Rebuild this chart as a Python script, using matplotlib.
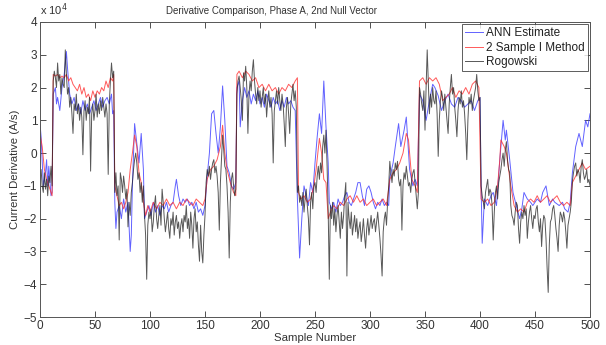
import matplotlib
matplotlib.use("Agg")
import matplotlib.pyplot as plt

plt.rcParams['font.family'] = ['Liberation Sans', 'DejaVu Sans']

# ---- data (values in units of 1e4 A/s) ----
red_x = [0, 2, 4, 6, 8, 10, 11, 12, 14, 16, 18, 20, 22, 24, 26, 28, 30, 32, 34, 36, 38, 40, 42, 44, 46, 48, 50,
         52, 54, 56, 58, 60, 62, 64, 66, 67, 68, 70, 72, 74, 76, 78, 80, 82, 84, 86, 88, 90, 92, 94, 96, 98, 100,
         103, 106, 109, 112, 115, 118, 121, 124, 127, 130, 133, 136, 139, 142, 145, 148, 150, 152, 155, 158, 161,
         164, 166, 168, 170, 173, 176, 178, 179, 181, 184, 187, 190, 193, 196, 199, 202, 205, 208, 211, 214, 217,
         220, 223, 226, 229, 232, 234, 235, 237, 240, 243, 246, 249, 251, 254, 256, 258, 260, 262, 264, 267, 270,
         273, 276, 279, 282, 285, 288, 291, 294, 297, 300, 303, 306, 309, 312, 315, 318, 321, 324, 327, 330, 333,
         335, 338, 341, 343, 345, 348, 351, 354, 357, 360, 363, 366, 369, 372, 375, 378, 381, 384, 387, 390, 393,
         396, 399, 401, 404, 407, 410, 413, 416, 418, 419, 422, 424, 426, 428, 431, 434, 437, 440, 443, 446, 449,
         452, 455, 458, 461, 464, 467, 470, 473, 476, 479, 482, 484, 487, 490, 493, 496, 500]
red_y = [0.6, 0.2, -0.5, -0.8, -1.0, -1.2, -1.3, 2.4, 2.35, 2.4, 2.3, 2.35, 2.3, 2.4, 2.2, 2.3, 2.1, 2.0, 1.9, 2.1,
         1.8, 2.0, 1.7, 1.8, 1.6, 1.9, 1.7, 1.9, 1.8, 2.0, 1.9, 2.2, 2.0, 2.3, 2.2, 2.4, -1.0, -1.3, -1.6, -1.5,
         -1.7, -1.5, -1.2, -0.5, 0.0, 0.55, 0.2, -0.6, -0.9, -1.5, -1.9, -1.6, -1.8, -1.5, -1.7, -1.5, -1.6, -1.4,
         -1.6, -1.5, -1.7, -1.5, -1.6, -1.4, -1.5, -1.6, -1.4, -1.5, -1.6, -1.4, -0.8, -0.5, -0.4, -0.2, 0.2, 0.85,
         0.0, -0.5, -0.9, -1.2, -1.3, 2.4, 2.5, 2.3, 2.5, 2.4, 2.2, 2.3, 2.0, 2.1, 1.9, 2.1, 1.9, 2.0, 1.8, 2.0, 1.9,
         2.1, 2.0, 2.2, 2.3, -1.2, -1.4, -1.3, -1.5, -1.4, -1.0, -0.5, 0.45, 0.0, -0.8, -0.9, -2.0, -1.8, -1.6,
         -1.7, -1.5, -1.6, -1.4, -1.3, -1.5, -1.3, -1.5, -1.4, -1.6, -1.5, -1.4, -1.6, -1.5, -1.4, -1.6, -0.8,
         -0.6, -0.5, -0.3, 0.0, 0.6, 0.4, -0.8, -1.0, -1.2, 2.2, 2.3, 2.1, 2.3, 2.2, 2.3, 2.1, 1.6, 1.7, 1.8, 2.0,
         1.7, 1.9, 1.8, 2.0, 1.8, 2.1, 2.2, 2.0, -1.4, -1.5, -1.4, -1.6, -1.5, -1.0, -0.2, 0.4, 0.2, 0.0, -0.5,
         -1.0, -1.6, -1.8, -1.7, -1.8, -1.5, -1.4, -1.5, -1.3, -1.5, -1.4, -1.3, -1.5, -1.4, -1.3, -1.5, -1.6,
         -1.5, -1.6, -0.9, -0.7, -0.5, -0.3, -0.5, -0.4]

blue_x = [0, 1, 3, 5, 6, 7, 8, 10, 11, 12, 14, 15, 16, 18, 20, 22, 24, 25, 27, 29, 31, 33, 35, 37, 39, 41, 43, 45,
          47, 49, 51, 53, 55, 57, 59, 61, 63, 65, 66, 67, 68, 69, 70, 72, 74, 76, 78, 80, 82, 83, 84, 86, 88, 90,
          92, 94, 95, 97, 99, 101, 103, 105, 107, 109, 111, 113, 115, 117, 119, 121, 123, 124, 126, 128, 130, 132,
          134, 136, 138, 140, 142, 144, 146, 148, 150, 152, 154, 156, 158, 160, 162, 164, 166, 168, 170, 172, 174,
          176, 178, 179, 181, 182, 184, 186, 188, 190, 192, 194, 196, 198, 200, 202, 204, 206, 208, 210, 212, 214,
          216, 218, 220, 222, 224, 226, 228, 230, 232, 234, 236, 238, 240, 242, 244, 246, 248, 250, 252, 254, 256,
          258, 260, 262, 263, 265, 267, 269, 271, 273, 275, 277, 279, 281, 283, 285, 287, 289, 291, 293, 295, 297,
          299, 301, 303, 305, 307, 309, 311, 313, 315, 317, 318, 321, 323, 326, 328, 331, 333, 336, 339, 341, 343,
          345, 348, 351, 354, 357, 359, 362, 365, 368, 371, 374, 377, 380, 383, 386, 389, 392, 395, 398, 400, 401,
          402, 404, 407, 410, 412, 415, 418, 421, 423, 424, 427, 430, 433, 436, 438, 440, 443, 446, 448, 452, 455,
          457, 460, 463, 466, 468, 472, 475, 477, 480, 482, 484, 487, 490, 493, 496, 498, 500]
blue_y = [0.9, 0.5, -1.0, -0.6, -0.2, -1.0, -0.4, -1.3, -1.2, 1.8, 2.0, 1.5, 1.7, 1.3, 2.0, 2.4, 3.1, 2.6, 1.8, 1.5,
          1.7, 1.3, 1.5, 1.2, 1.6, 1.3, 1.5, 1.2, 1.4, 1.6, 1.3, 1.5, 1.7, 1.4, 1.6, 1.7, 1.5, 1.8, 1.2, 1.3, -1.5,
          -2.3, -1.8, -1.6, -2.0, -1.4, -1.8, -1.5, -3.0, -2.5, -1.0, 0.9, 0.3, -0.3, 0.6, -0.5, -2.0, -1.8, -1.6,
          -1.9, -1.5, -1.8, -1.6, -1.9, -1.6, -1.7, -1.5, -1.8, -1.6, -1.5, -1.0, -0.8, -1.3, -1.6, -1.4, -1.5,
          -1.4, -1.6, -1.5, -1.7, -1.5, -1.8, -1.7, -1.9, -1.6, -0.7, 0.0, 1.2, 1.3, 0.6, 0.0, 0.8, 2.05, 1.0, -0.4,
          -0.6, -1.0, -1.1, -0.9, 2.0, 2.2, 0.8, 1.6, 2.0, 1.7, 1.9, 1.5, 1.8, 1.6, 1.9, 1.5, 1.7, 1.4, 1.8, 1.6,
          1.4, 1.7, 1.5, 1.6, 1.3, 1.6, 1.4, 1.7, 1.5, 1.6, 1.4, 1.3, -1.4, -3.2, -2.0, -1.0, -1.3, -1.6, -0.9,
          -1.2, -0.3, 0.5, 1.2, 0.6, 2.2, 0.8, -0.3, -1.5, -1.7, -1.5, -1.8, -1.4, -1.6, -1.5, -1.3, -1.2, -1.5,
          -1.6, -1.4, -1.2, -0.9, -0.9, -1.3, -1.6, -1.1, -1.0, -1.2, -1.5, -1.7, -1.5, -1.6, -1.4, -1.6, -1.5,
          -1.6, -0.75, -0.3, 0.2, 0.9, 0.2, 0.7, 1.1, -0.5, -1.0, -0.8, -1.0, 1.8, 1.6, 1.0, 1.6, 2.1, 2.0, 1.75,
          1.3, 1.6, 1.8, 1.5, 1.4, 1.7, 1.6, 1.4, 1.5, 1.6, 1.3, 1.6, 1.7, -1.0, -2.75, -1.4, -1.6, -1.3, -1.2,
          -1.6, -0.2, 1.0, 0.4, 0.7, -0.2, -1.2, -1.6, -2.0, -1.7, -1.2, -1.4, -1.5, -1.6, -1.4, -1.5, -1.2, -1.0,
          -1.6, -1.4, -1.5, -1.6, -1.5, -1.7, -1.8, -1.5, -0.6, 0.2, 0.6, 0.2, 1.0, 0.8, 1.2]

black_pts = [
    (0, -0.8), (1, -0.5), (2, -1.0), (3, -1.2), (4, -0.6), (5, -1.1), (6, -0.8), (7, -1.3), (8, -0.7), (9, -0.9),
    (10, -0.4), (11, -1.0), (12, 2.2), (13, 2.5), (14, 2.3), (15, 2.0), (16, 2.75), (17, 2.2), (18, 2.4),
    (19, 1.8), (20, 2.3), (21, 2.1), (22, 2.0), (23, 3.15), (24, 2.4), (25, 1.8), (26, 2.0), (27, 1.4), (28, 1.7),
    (29, 1.2), (30, 0.6), (31, 1.5), (32, 1.3), (33, 1.8), (34, 1.2), (35, 1.5), (36, 1.0), (37, 1.4), (38, 1.1),
    (39, -0.05), (40, 1.3), (41, 1.6), (42, 1.0), (43, 1.4), (44, 1.2), (45, 1.7), (46, -0.55), (47, 1.2),
    (48, 1.5), (49, 1.0), (50, 1.3), (51, 1.8), (52, 1.1), (53, 1.5), (54, 1.2), (55, 1.6), (56, 1.3), (57, 1.7),
    (58, 1.4), (59, 1.1), (60, 1.5), (61, 1.2), (62, -0.65), (63, 1.5), (64, 2.2), (65, 2.75), (66, 2.3),
    (67, 2.5), (68, -1.2), (69, -0.6), (70, -1.3), (71, -1.0), (72, -2.65), (73, -0.6), (74, -0.8), (75, -1.2),
    (76, -0.7), (77, -1.0), (78, -1.4), (79, -1.1), (80, -2.25), (81, -1.5), (82, -1.9), (83, -1.2), (84, -0.9),
    (85, -0.5), (86, -0.2), (87, 0.0), (88, -0.3), (89, -0.8), (90, -0.6), (91, -1.2), (92, -0.9), (93, -1.5),
    (94, -1.0), (95, -1.9), (96, -2.5), (97, -3.85), (98, -2.2), (99, -1.8), (100, -2.0), (101, -1.7),
    (102, -2.4), (103, -2.1), (104, -1.6), (105, -1.3), (106, -2.0), (107, -2.3), (108, -1.9), (109, -1.6),
    (110, -2.2), (111, -1.1), (112, -1.5), (113, -2.0), (114, -2.4), (115, -2.1), (116, -1.8), (117, -2.3),
    (118, -2.6), (119, -2.0), (120, -2.2), (121, -1.8), (122, -2.5), (123, -2.1), (124, -1.9), (125, -2.3),
    (126, -2.1), (127, -2.6), (128, -2.2), (129, -2.0), (130, -2.4), (131, -1.9), (132, -2.1), (133, -1.6),
    (134, -2.3), (135, -2.0), (136, -2.6), (137, -1.8), (138, -2.2), (139, -2.9), (140, -2.0), (141, -1.7),
    (142, -2.4), (143, -2.1), (144, -2.8), (145, -3.3), (146, -2.2), (147, -3.0), (148, -3.35), (149, -2.5),
    (150, -1.9), (151, -0.9), (152, -0.5), (153, -0.7), (154, -0.4), (155, -0.8), (156, -0.5), (157, -0.3),
    (158, -0.2), (159, -0.6), (160, -0.4), (161, -0.7), (162, -1.2), (163, -2.35), (164, -0.9), (165, -0.2),
    (166, 0.55), (167, 0.1), (168, -0.4), (169, -0.5), (170, -1.0), (171, -1.8), (172, -3.2), (173, -1.5),
    (174, -0.8), (175, -0.6), (176, -1.0), (177, -1.3), (178, -1.1), (179, 1.8), (180, 2.2), (181, 2.35),
    (182, 2.0), (183, 1.6), (184, 1.0), (185, 2.45), (186, 2.2), (187, 2.65), (188, 2.0), (189, 0.6), (190, 1.8),
    (191, 2.2), (192, 1.9), (193, 2.5), (194, 2.85), (195, 2.2), (196, 1.8), (197, 1.5), (198, 2.0), (199, 1.6),
    (200, 1.9), (201, 1.4), (202, 1.7), (203, 2.0), (204, 1.5), (205, 1.8), (206, 1.1), (207, 1.6), (208, 1.9),
    (209, 1.4), (210, 1.7), (211, 1.2), (212, -0.3), (213, 1.3), (214, 1.6), (215, 1.9), (216, 1.5), (217, 2.0),
    (218, 1.6), (219, 1.3), (220, 1.8), (221, 1.5), (222, 0.9), (223, 0.2), (224, 1.4), (225, 1.7), (226, 1.2),
    (227, 0.6), (228, 1.5), (229, 1.8), (230, 2.1), (231, 1.6), (232, 1.9), (233, 1.4), (234, -1.2), (235, -1.0),
    (236, -1.5), (237, -1.3), (238, -1.6), (239, -1.2), (240, -1.8), (241, -1.4), (242, -1.1), (243, -1.6),
    (244, -2.0), (245, -2.8), (246, -1.5), (247, -1.2), (248, -1.7), (249, -1.0), (250, -0.9), (251, -1.2),
    (252, -0.7), (253, -0.4), (254, -0.8), (255, -0.3), (256, -0.6), (257, 0.2), (258, 0.55), (259, 0.0),
    (260, 0.7), (261, -0.4), (262, -1.8), (263, -3.85), (264, -1.6), (265, -2.0), (266, -1.5), (267, -2.2),
    (268, -1.7), (269, -2.4), (270, -1.9), (271, -1.6), (272, -2.1), (273, -2.6), (274, -1.8), (275, -2.3),
    (276, -1.9), (277, -1.3), (278, -0.9), (279, -3.75), (280, -1.5), (281, -2.0), (282, -2.3), (283, -1.8),
    (284, -2.5), (285, -2.2), (286, -1.9), (287, -2.4), (288, -2.0), (289, -2.6), (290, -2.3), (291, -2.1),
    (292, -2.7), (293, -2.4), (294, -2.0), (295, -2.5), (296, -2.9), (297, -2.3), (298, -2.0), (299, -2.5),
    (300, -2.2), (301, -1.9), (302, -2.3), (303, -2.1), (304, -2.0), (305, -2.4), (306, -2.1), (307, -1.8),
    (308, -2.2), (309, -2.6), (310, -3.1), (311, -3.75), (312, -2.4), (313, -2.0), (314, -1.8), (315, -2.2),
    (316, -1.5), (317, -1.0), (318, -0.25), (319, -0.6), (320, -0.9), (321, -0.5), (322, -0.7), (323, -0.3),
    (324, -0.5), (325, -0.25), (326, -0.8), (327, -1.0), (328, -0.8), (329, -2.35), (330, -1.0), (331, -0.6),
    (332, -0.8), (333, -0.4), (334, -0.7), (335, -1.0), (336, -0.9), (337, -1.2), (338, -0.8), (339, -0.6),
    (340, -0.5), (341, -0.9), (342, -1.3), (343, -1.7), (344, -1.2), (345, 2.0), (346, 1.8), (347, 1.5),
    (348, 1.3), (349, 1.9), (350, 0.7), (351, 2.0), (352, 3.15), (353, 2.2), (354, 1.2), (355, 1.8), (356, 1.4),
    (357, 2.0), (358, 1.6), (359, 1.5), (360, 1.9), (361, 1.2), (362, -0.1), (363, 1.0), (364, 1.6), (365, 1.9),
    (366, 1.7), (367, 1.3), (368, 1.8), (369, 1.4), (370, 1.0), (371, 0.6), (372, 1.5), (373, 2.0), (374, 2.4),
    (375, 1.8), (376, 2.0), (377, 1.4), (378, 1.0), (379, 0.5), (380, 1.3), (381, 1.7), (382, 1.5), (383, 1.9),
    (384, 1.4), (385, 1.6), (386, 1.2), (387, 0.6), (388, -0.2), (389, 1.0), (390, 1.7), (391, 1.5), (392, 1.8),
    (393, 1.3), (394, 1.6), (395, 1.8), (396, 2.0), (397, 2.4), (398, 1.9), (399, 1.6), (400, 1.7),
    (401, -1.0), (402, -1.3), (403, -1.5), (404, -1.7), (405, -1.2), (406, -1.0), (407, -0.8), (408, -1.3),
    (409, -1.1), (410, -1.2), (411, -1.6), (412, -2.65), (413, -1.8), (414, -1.2), (415, -1.0), (416, -1.4),
    (417, -0.9), (418, -0.7), (419, -0.5), (420, -0.2), (421, 0.0), (422, -0.4), (423, 0.1), (424, 0.35),
    (425, -0.2), (426, -0.5), (427, -0.6), (428, -1.6), (429, -1.9), (430, -2.0), (431, -2.2), (432, -1.8),
    (433, -1.5), (434, -1.6), (435, -2.3), (436, -2.75), (437, -2.1), (438, -1.8), (439, -2.0), (440, -1.6),
    (441, -1.9), (442, -1.7), (443, -2.6), (444, -2.1), (445, -1.8), (446, -1.6), (447, -2.0), (448, -2.3),
    (449, -1.9), (450, -2.0), (451, -1.7), (452, -1.6), (453, -2.1), (454, -2.4), (455, -2.0), (456, -2.85),
    (457, -2.2), (458, -1.9), (459, -2.0), (460, -2.6), (461, -3.5), (462, -4.25), (463, -2.8), (464, -2.1),
    (465, -2.0), (466, -1.7), (467, -1.6), (468, -1.9), (469, -2.3), (470, -2.6), (471, -3.0), (472, -2.2),
    (473, -1.8), (474, -1.9), (475, -2.1), (476, -1.8), (477, -2.0), (478, -2.4), (479, -2.9), (480, -2.2),
    (481, -2.0), (482, -1.8), (483, -1.5), (484, -0.85), (485, -0.6), (486, -0.4), (487, -0.3), (488, -0.7),
    (489, -0.5), (490, -0.6), (491, -0.9), (492, -0.4), (493, -0.2), (494, -0.6), (495, -0.8), (496, -0.7),
    (497, -0.5), (498, -0.9), (499, -0.8), (500, -1.0),
]
black_x = [p[0] for p in black_pts]
black_y = [p[1] for p in black_pts]

x_ticks = list(range(0, 501, 50))
y_ticks = list(range(-5, 5))

title = "Derivative Comparison, Phase A, 2nd Null Vector"
labels = ["ANN Estimate", "2 Sample I Method", "Rogowski"]

# ---- figure ----
fig = plt.figure(figsize=(6.06, 3.45), dpi=100)
ax = fig.add_axes([40 / 606, 1 - 317 / 345, 550 / 606, 295 / 345])

ax.plot(blue_x, blue_y, color='#3a3aff', lw=0.7, alpha=0.8, label=labels[0])
ax.plot(red_x, red_y, color='#ff3030', lw=0.7, alpha=0.8, label=labels[1])
ax.plot(black_x, black_y, color='#202020', lw=0.7, alpha=0.75, label=labels[2])

ax.set_xlim(0, 500)
ax.set_ylim(-5, 4)
ax.set_xticks(x_ticks)
ax.set_yticks(y_ticks)
ax.tick_params(direction='in', top=True, right=True, length=4, width=0.6,
               labelsize=8.5, colors='#333333', pad=2)
for s in ax.spines.values():
    s.set_linewidth(0.7)
    s.set_color('#555555')

ax.text(0.42, 1.022, title, transform=ax.transAxes, fontsize=7, color='#333333',
        ha='center', va='bottom')
ax.set_xlabel("Sample Number", fontsize=8.2, color='#333333', labelpad=1)
ax.set_ylabel("Current Derivative (A/s)", fontsize=8.2, color='#333333', labelpad=3)
ax.text(0.0, 1.012, r"x 10$^4$", transform=ax.transAxes, fontsize=8, color='#333333',
        ha='left', va='bottom')

leg = ax.legend(loc='upper right', fontsize=8.5, frameon=True, fancybox=False,
                borderpad=0.25, labelspacing=0.2, handlelength=1.5, handletextpad=0.3,
                borderaxespad=0.2)
leg.get_frame().set_edgecolor('#333333')
leg.get_frame().set_linewidth(0.7)
for t in leg.get_texts():
    t.set_color('#222222')

fig.savefig("out.png", dpi=100)
